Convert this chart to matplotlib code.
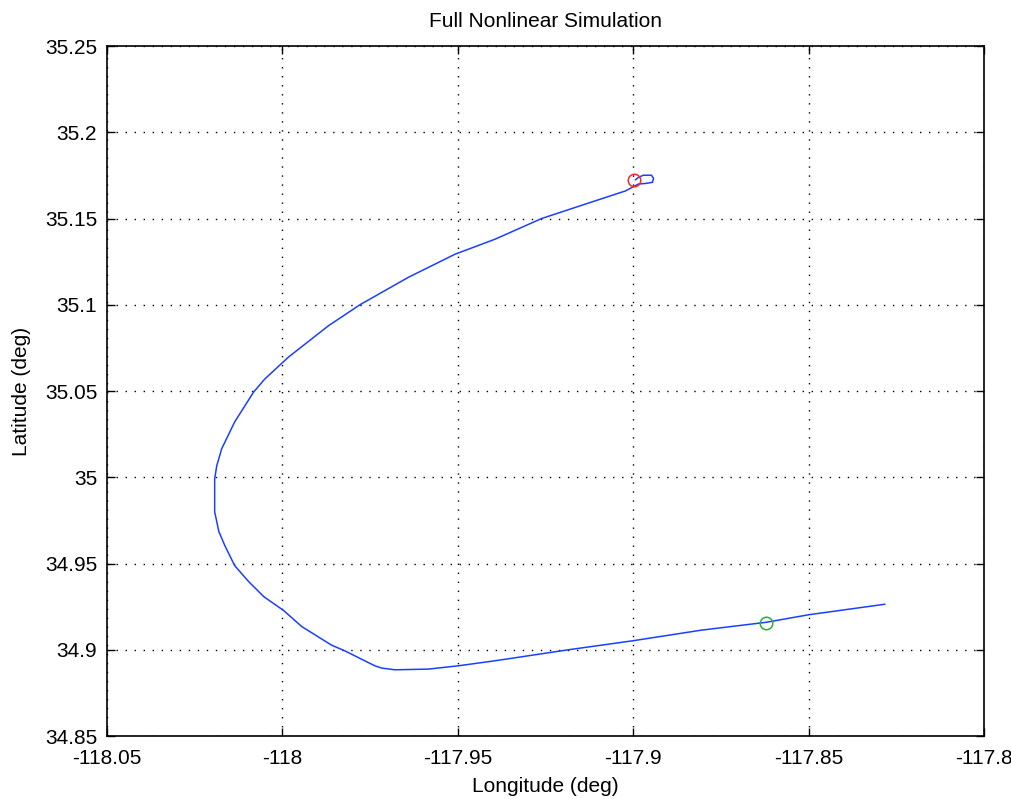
import numpy as np
import matplotlib
matplotlib.use("Agg")
from matplotlib import pyplot as plt

# ground track of the full nonlinear run, lon/lat in deg
lon = [-117.8283, -117.8500, -117.8622, -117.8805, -117.9002, -117.9185, -117.9375,
       -117.9413, -117.9499, -117.9584, -117.9679, -117.9717, -117.9736, -117.9765,
       -117.9822, -117.9860, -117.9945, -117.9996, -118.0053, -118.0096, -118.0136,
       -118.0164, -118.0181, -118.0193, -118.0193, -118.0187, -118.0173, -118.0136,
       -118.0082, -118.0050, -117.9983, -117.9869, -117.9779, -117.9641, -117.9508,
       -117.9394, -117.9261, -117.9109, -117.9022, -117.8985, -117.8962, -117.8945,
       -117.8942, -117.8948, -117.8971, -117.8985, -117.8993]
lat = [34.9264, 34.9203, 34.9159, 34.9114, 34.9052, 34.9000, 34.8942,
       34.8931, 34.8907, 34.8888, 34.8884, 34.8894, 34.8907, 34.8936,
       34.8994, 34.9027, 34.9135, 34.9227, 34.9308, 34.9395, 34.9488,
       34.9604, 34.9685, 34.9800, 34.9991, 35.0067, 35.0165, 35.0321,
       35.0494, 35.0570, 35.0696, 35.0878, 35.1000, 35.1159, 35.1293,
       35.1380, 35.1500, 35.1602, 35.1660, 35.1700, 35.1704, 35.1710,
       35.1733, 35.1751, 35.1751, 35.1739, 35.1725]

# marked points
red_pt = (-117.8998, 35.1723)
green_pt = (-117.8622, 34.9155)

xticks = [-118.05, -118, -117.95, -117.9, -117.85, -117.8]
xticklabels = ["-118.05", "-118", "-117.95", "-117.9", "-117.85", "-117.8"]
yticks = [34.85, 34.9, 34.95, 35, 35.05, 35.1, 35.15, 35.2, 35.25]
yticklabels = ["34.85", "34.9", "34.95", "35", "35.05", "35.1", "35.15", "35.2", "35.25"]

plt.rcParams['font.family'] = ['Liberation Sans', 'DejaVu Sans']
plt.rcParams['font.size'] = 15

fig = plt.figure(figsize=(10.11, 7.99), dpi=100)
ax = fig.add_axes([0.1058, 0.0788, 0.8675, 0.8636])

ax.plot(lon, lat, color=(0.1, 0.25, 1), linewidth=1.1)
ax.plot(red_pt[0], red_pt[1], 'o', markerfacecolor='none', markeredgecolor=(1, 0.15, 0.15),
        markersize=9, markeredgewidth=1.1)
ax.plot(green_pt[0], green_pt[1], 'o', markerfacecolor='none', markeredgecolor=(0.15, 0.7, 0.15),
        markersize=9, markeredgewidth=1.1)

ax.set_xlim(-118.05, -117.8)
ax.set_ylim(34.85, 35.25)
ax.set_xticks(xticks)
ax.set_xticklabels(xticklabels)
ax.set_yticks(yticks)
ax.set_yticklabels(yticklabels)
ax.tick_params(direction='in', top=True, right=True, length=6, width=1, labelsize=15)
ax.tick_params(axis='x', pad=9)
ax.tick_params(axis='y', pad=7)
ax.grid(True, color='black', linestyle=(0, (1, 5.5)), linewidth=1.0)
for s in ax.spines.values():
    s.set_linewidth(1.2)

ax.set_title("Full Nonlinear Simulation", fontsize=15, pad=14)
ax.set_xlabel("Longitude (deg)", fontsize=15, labelpad=7)
ax.set_ylabel("Latitude (deg)", fontsize=15, labelpad=10)

fig.savefig("out.png", dpi=100)
